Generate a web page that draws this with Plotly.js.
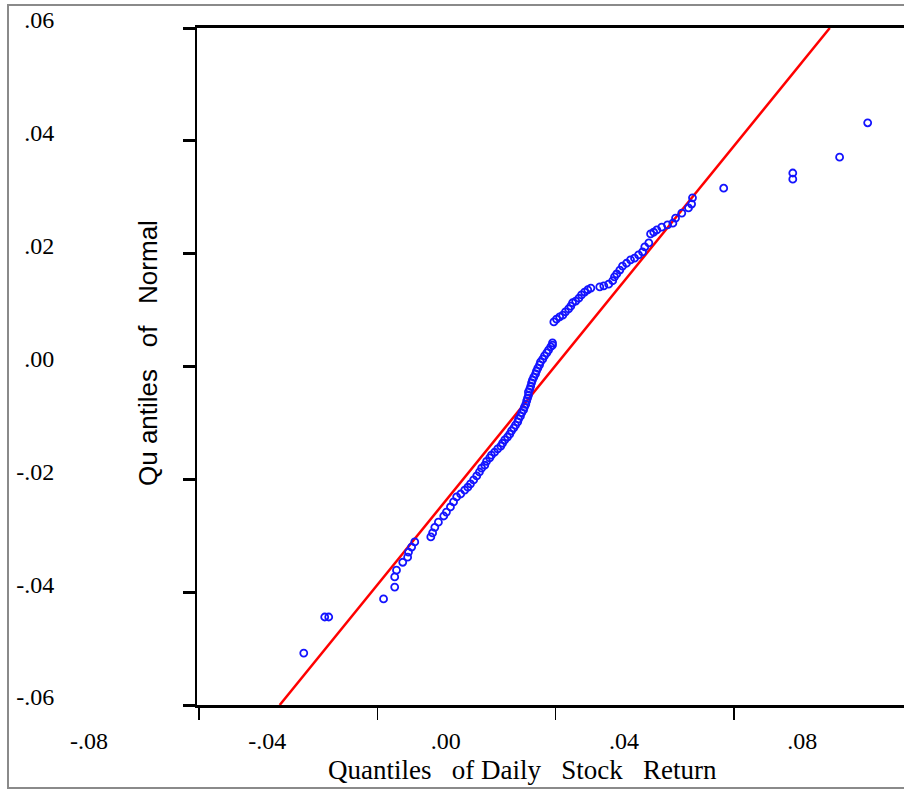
<!DOCTYPE html>
<html>
<head>
<meta charset="utf-8">
<script src="https://cdn.plot.ly/plotly-3.0.1.min.js"></script>
<style>
  html, body { margin: 0; padding: 0; background: #ffffff; overflow: hidden; width: 904px; height: 789px; }
  #frame { position: absolute; left: 7px; top: 4px; width: 1000px; height: 781px; border: 2px solid #8a8a8a; z-index: 0; }
  #chart { position: absolute; left: 0; top: 0; z-index: 1; }
</style>
</head>
<body>
<div id="frame"></div>
<div id="chart"></div>
<script>
// Quantiles of daily stock return (x) vs quantiles of Normal (y)
const returnQuantiles = [
  -0.0565, -0.0518, -0.0509, -0.0386, -0.0361, -0.0361, -0.0357, -0.0343, -0.0332, -0.0330,
  -0.0323, -0.0316, -0.0280, -0.0276, -0.0271, -0.0263, -0.0251, -0.0245, -0.0236, -0.0229,
  -0.0222, -0.0213, -0.0204, -0.0197, -0.0191, -0.0184, -0.0177, -0.0171, -0.0166, -0.0159,
  -0.0155, -0.0148, -0.0144, -0.0137, -0.0130, -0.0123, -0.0119, -0.0114, -0.0108, -0.0103,
  -0.0099, -0.0094, -0.0090, -0.0085, -0.0083, -0.0079, -0.0076, -0.0072, -0.0070, -0.0067,
  -0.0065, -0.0063, -0.0061, -0.0061, -0.0058, -0.0056, -0.0054, -0.0052, -0.0049, -0.0045,
  -0.0043, -0.0040, -0.0036, -0.0034, -0.0029, -0.0025, -0.0020, -0.0016, -0.0011, -0.0007,
  -0.0007, -0.0004, 0.0002, 0.0009, 0.0016, 0.0022, 0.0029, 0.0034, 0.0038, 0.0045,
  0.0052, 0.0058, 0.0065, 0.0072, 0.0079, 0.0099, 0.0108, 0.0119, 0.0128, 0.0132,
  0.0137, 0.0144, 0.0150, 0.0159, 0.0168, 0.0177, 0.0186, 0.0195, 0.0200, 0.0209,
  0.0213, 0.0220, 0.0227, 0.0238, 0.0251, 0.0263, 0.0269, 0.0283, 0.0298, 0.0305,
  0.0307, 0.0377, 0.0532, 0.0532, 0.0637, 0.0700
];
const normalQuantiles = [
  -0.0508, -0.0444, -0.0444, -0.0412, -0.0391, -0.0373, -0.0361, -0.0347, -0.0338, -0.0329,
  -0.0320, -0.0311, -0.0302, -0.0295, -0.0285, -0.0276, -0.0265, -0.0258, -0.0249, -0.0240,
  -0.0231, -0.0226, -0.0219, -0.0214, -0.0208, -0.0201, -0.0194, -0.0187, -0.0180, -0.0175,
  -0.0168, -0.0162, -0.0157, -0.0152, -0.0146, -0.0141, -0.0136, -0.0130, -0.0125, -0.0120,
  -0.0114, -0.0109, -0.0104, -0.0098, -0.0093, -0.0088, -0.0082, -0.0077, -0.0072, -0.0067,
  -0.0061, -0.0056, -0.0051, -0.0045, -0.0040, -0.0035, -0.0029, -0.0024, -0.0019, -0.0013,
  -0.0008, -0.0003, 0.0003, 0.0008, 0.0013, 0.0019, 0.0024, 0.0029, 0.0035, 0.0038,
  0.0042, 0.0079, 0.0084, 0.0088, 0.0091, 0.0097, 0.0102, 0.0107, 0.0113, 0.0116,
  0.0121, 0.0127, 0.0132, 0.0136, 0.0139, 0.0141, 0.0143, 0.0146, 0.0152, 0.0159,
  0.0164, 0.0171, 0.0178, 0.0183, 0.0189, 0.0192, 0.0198, 0.0203, 0.0212, 0.0219,
  0.0235, 0.0238, 0.0242, 0.0247, 0.0251, 0.0254, 0.0263, 0.0272, 0.0281, 0.0288,
  0.0299, 0.0316, 0.0332, 0.0343, 0.0371, 0.0432
];
// Reference (fitted) line end points
const refLineX = [-0.0619, 0.0615];
const refLineY = [-0.06, 0.06];

const xTickVals = [-0.08, -0.04, 0.00, 0.04, 0.08];
const xTickText = ['-.08', '-.04', '.00', '.04', '.08'];
const yTickVals = [-0.06, -0.04, -0.02, 0.00, 0.02, 0.04, 0.06];
const yTickText = ['-.06', '-.04', '-.02', '.00', '.02', '.04', '.06'];

const xTitle = 'Quantiles\u00a0\u00a0 of Daily\u00a0\u00a0\u00a0Stock\u00a0\u00a0\u00a0Return';
const yTitle = 'Qu antiles\u00a0\u00a0\u00a0of\u00a0\u00a0\u00a0Normal';

const serif = '"Liberation Serif", "Times New Roman", serif';
const sans = '"Liberation Sans", Arial, sans-serif';

const traces = [
  {
    type: 'scatter', mode: 'lines',
    x: refLineX, y: refLineY,
    line: { color: '#ff0000', width: 2.5 },
    hoverinfo: 'skip', showlegend: false
  },
  {
    type: 'scatter', mode: 'markers',
    x: returnQuantiles, y: normalQuantiles,
    marker: { symbol: 'circle-open', size: 7, color: '#1414ff', line: { width: 1.8, color: '#1414ff' } },
    showlegend: false
  }
];

const layout = {
  width: 930, height: 789,
  margin: { l: 197, r: 0, t: 28, b: 84, pad: 0 },
  paper_bgcolor: 'rgba(0,0,0,0)',
  plot_bgcolor: 'rgba(0,0,0,0)',
  showlegend: false,
  xaxis: {
    range: [-0.08045, 0.08398],
    tickmode: 'array', tickvals: xTickVals, ticktext: xTickText,
    ticks: 'outside', ticklen: 12, tickwidth: 1.5, tickcolor: '#000',
    ticklabelshift: -110, ticklabelstandoff: 0,
    tickfont: { family: serif, size: 24, color: '#000' },
    showline: true, linewidth: 3, linecolor: '#000', mirror: true,
    showgrid: false, zeroline: false
  },
  yaxis: {
    range: [-0.06, 0.06],
    tickmode: 'array', tickvals: yTickVals, ticktext: yTickText,
    ticks: 'outside', ticklen: 12, tickwidth: 3, tickcolor: '#000',
    ticklabelstandoff: 124, ticklabelshift: -8,
    tickfont: { family: serif, size: 24, color: '#000' },
    showline: true, linewidth: 2, linecolor: '#000', mirror: false,
    showgrid: false, zeroline: false
  },
  annotations: [
    {
      text: xTitle, xref: 'paper', yref: 'paper',
      x: 0.4434, y: -0.096, xanchor: 'center', yanchor: 'middle',
      showarrow: false, font: { family: serif, size: 27, color: '#000' }
    },
    {
      text: yTitle, xref: 'paper', yref: 'paper',
      x: -0.0668, y: 0.52, xanchor: 'center', yanchor: 'middle', textangle: -90,
      showarrow: false, font: { family: sans, size: 26, color: '#000' }
    }
  ]
};

Plotly.newPlot('chart', traces, layout, { displayModeBar: false, staticPlot: true });
</script>
</body>
</html>
